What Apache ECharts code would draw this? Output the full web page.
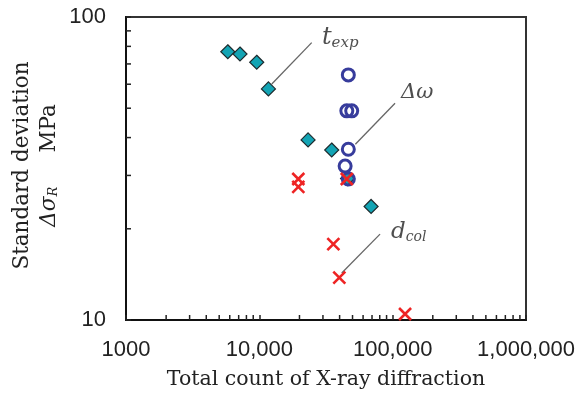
<!DOCTYPE html>
<html><head><meta charset="utf-8">
<script src="https://cdn.jsdelivr.net/npm/echarts@6/dist/echarts.min.js"></script>
<style>html,body{margin:0;padding:0;background:#fff}#c{width:576px;height:393px}</style>
</head><body><div id="c"></div>
<script>
// ---- data ----
const xTicks = [1000, 10000, 100000, 1000000];
const yTicks = [10, 100];
const xMinorTicks = [2000,3000,4000,5000,6000,7000,8000,9000,20000,30000,40000,50000,60000,70000,80000,90000,200000,300000,400000,500000,600000,700000,800000,900000];
const yMinorTicks = [20,30,40,50,60,70,80,90];
// t_exp (diamonds)
const texpX = [5800, 7160, 9560, 11700, 23200, 34900, 45900, 68900];
const texpY = [76.8, 75.5, 70.9, 57.9, 39.3, 36.4, 29.3, 23.7];
// delta omega (circles)
const domegaX = [46500, 45300, 49300, 46500, 44000, 46500];
const domegaY = [64.4, 49.0, 49.0, 36.6, 32.2, 29.2];
// d_col (crosses)
const dcolX = [19600, 19600, 45300, 35900, 39800, 123900];
const dcolY = [29.2, 27.5, 29.2, 17.8, 13.8, 10.47];
// annotation leader lines and label anchors (data coordinates)
const leaderTexp = [[12400, 60.1], [24700, 82.3]];
const leaderDomega = [[52500, 38.0], [104200, 51.9]];
const leaderDcol = [[41500, 14.3], [80400, 19.2]];
const labelTexp = [29500, 85.3];
const labelDomega = [115600, 56.3];
const labelDcol = [97200, 19.5];

const zip = (a, b) => a.map((v, i) => [v, b[i]]);
const fmtX = v => v === 1000 ? '1000' : v.toLocaleString('en-US');

const chart = echarts.init(document.getElementById('c'));
const serif = 'DejaVu Serif';
const tickSeries = {
  type: 'custom',
  silent: true,
  z: 1,
  renderItem: (params, api) => {
    const kind = api.value(0);
    const v = api.value(1);
    if (kind === 0) {
      const p = api.coord([v, 10]);
      return {type: 'line', shape: {x1: p[0], y1: p[1], x2: p[0], y2: p[1] - 5}, style: {stroke: '#222', lineWidth: 1.5}};
    } else {
      const p = api.coord([1000, v]);
      return {type: 'line', shape: {x1: p[0], y1: p[1], x2: p[0] + 5, y2: p[1]}, style: {stroke: '#222', lineWidth: 1.5}};
    }
  },
  encode: {x: -1, y: -1},
  data: xMinorTicks.map(v => [0, v]).concat(yMinorTicks.map(v => [1, v]))
};
const leader = d => ({type: 'line', data: d, symbol: 'none', silent: true, z: 2,
  lineStyle: {color: '#666', width: 1.3}});
const label = (pos, fmt, rich) => ({type: 'scatter', data: [pos], symbolSize: 0, silent: true, z: 5,
  label: {show: true, position: 'inside', align: 'left', verticalAlign: 'middle', formatter: fmt, rich: rich}});

chart.setOption({
  animation: false,
  grid: {left: 126, right: 50, top: 17, bottom: 73, containLabel: false, outerBoundsMode: 'none',
    show: true, borderColor: '#333', borderWidth: 2},
  xAxis: {
    type: 'log', logBase: 10, min: 1000, max: 1000000,
    axisLine: {show: true, lineStyle: {color: '#111', width: 2}},
    axisTick: {show: true, inside: true, length: 5, lineStyle: {color: '#222', width: 1.5}},
    splitLine: {show: false},
    axisLabel: {fontFamily: 'Liberation Sans', fontSize: 22, color: '#222', margin: 19, formatter: fmtX},
    name: 'Total count of X-ray diffraction', nameLocation: 'middle', nameGap: 49,
    nameTextStyle: {fontFamily: serif, fontSize: 20.5, color: '#222'}
  },
  yAxis: {
    type: 'log', logBase: 10, min: 10, max: 100,
    axisLine: {show: true, lineStyle: {color: '#111', width: 2}},
    axisTick: {show: true, inside: true, length: 5, lineStyle: {color: '#222', width: 1.5}},
    splitLine: {show: false},
    axisLabel: {fontFamily: 'Liberation Sans', fontSize: 22, color: '#222', margin: 20},
    name: 'Standard deviation\n{i|Δσ}{s|R}     MPa', nameLocation: 'middle', nameRotate: 90, nameGap: 63,
    nameMoveOverlap: false,
    nameTextStyle: {fontFamily: serif, fontSize: 21.5, color: '#222', lineHeight: 27, padding: [0, 0, 0, 6],
      rich: {i: {fontFamily: serif, fontStyle: 'italic', fontSize: 21.5, color: '#222', lineHeight: 27},
             s: {fontFamily: serif, fontStyle: 'italic', fontSize: 13, color: '#222', lineHeight: 27, padding: [8, 0, 0, 0]}}}
  },
  series: [
    tickSeries,
    leader(leaderTexp), leader(leaderDomega), leader(leaderDcol),
    {type: 'scatter', name: 'texp', data: zip(texpX, texpY), symbol: 'diamond', symbolSize: 14, z: 3,
      itemStyle: {color: '#13a4b4', borderColor: '#1e2b2e', borderWidth: 1.2, opacity: 1}},
    {type: 'scatter', name: 'domega', data: zip(domegaX, domegaY), symbol: 'circle', symbolSize: 12, z: 4,
      itemStyle: {color: 'rgba(0,0,0,0)', borderColor: '#373c9c', borderWidth: 3, opacity: 1}},
    {type: 'scatter', name: 'dcol', data: zip(dcolX, dcolY), symbol: 'path://M0,0L10,10M10,0L0,10', symbolSize: 12, z: 5,
      itemStyle: {color: 'rgba(0,0,0,0)', borderColor: '#ee2424', borderWidth: 2.6, opacity: 1}},
    label(labelTexp, '{a|t}{b|exp}', {a: {fontFamily: serif, fontStyle: 'italic', fontSize: 24, color: '#222'}, b: {fontFamily: serif, fontStyle: 'italic', fontSize: 15, color: '#222', padding: [10, 0, 0, 0]}}),
    label(labelDomega, '{a|Δω}', {a: {fontFamily: serif, fontStyle: 'italic', fontSize: 21, color: '#222'}}),
    label(labelDcol, '{a|d}{b|col}', {a: {fontFamily: serif, fontStyle: 'italic', fontSize: 23, color: '#222'}, b: {fontFamily: serif, fontStyle: 'italic', fontSize: 14, color: '#222', padding: [10, 0, 0, 0]}})
  ]
});
</script>
</body></html>
